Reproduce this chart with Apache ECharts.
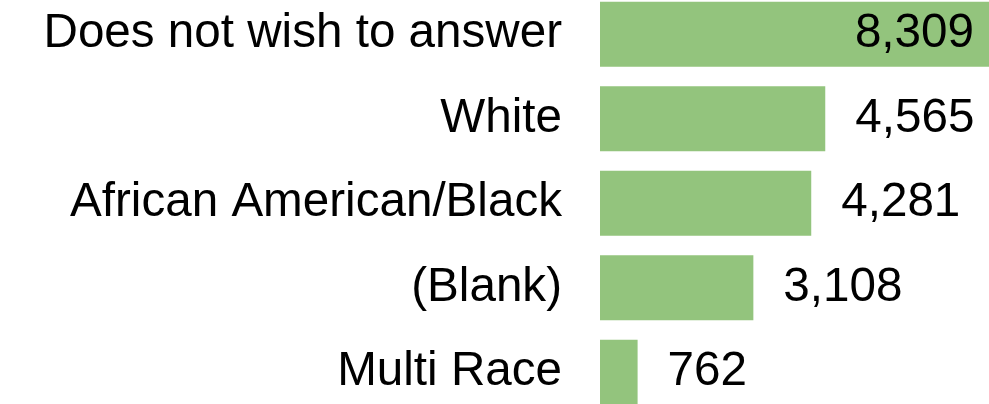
<!DOCTYPE html>
<html>
<head>
<meta charset="utf-8">
<script src="https://cdn.jsdelivr.net/npm/echarts@6/dist/echarts.min.js"></script>
<style>
  html, body { margin: 0; padding: 0; background: #fff; }
  #chart { width: 989px; height: 404px; }
</style>
</head>
<body>
<div id="chart"></div>
<script>
// categories top to bottom
var categories = ['Does not wish to answer', 'White', 'African American/Black', '(Blank)', 'Multi Race'];
// counts
var counts = [8309, 4565, 4281, 3108, 762];

var chart = echarts.init(document.getElementById('chart'));

var seriesData = counts.map(function (v, i) {
    var item = { value: v };
    if (i === 0) {
        // biggest bar: label sits inside
        item.label = { position: 'insideRight', distance: 36 };
    }
    return item;
});

var option = {
    animation: false,
    grid: {
        left: 600,
        top: -8,
        width: 410,
        height: 422.5,
        outerBoundsMode: 'none',
        containLabel: false
    },
    xAxis: {
        type: 'value',
        min: 0,
        max: 8309,
        show: false
    },
    yAxis: {
        type: 'category',
        inverse: true,
        data: categories,
        axisLine: { show: false },
        axisTick: { show: false },
        axisLabel: {
            margin: 38,
            fontFamily: 'Liberation Sans, Arial, sans-serif',
            fontSize: 47.6,
            color: '#000'
        }
    },
    series: [{
        type: 'bar',
        data: seriesData,
        barCategoryGap: '23%',
        itemStyle: { color: '#93c47d' },
        label: {
            show: true,
            position: 'right',
            distance: 30,
            fontFamily: 'Liberation Sans, Arial, sans-serif',
            fontSize: 47.6,
            color: '#000',
            formatter: function (p) {
                return p.value.toLocaleString('en-US');
            }
        }
    }]
};

chart.setOption(option);
</script>
</body>
</html>
